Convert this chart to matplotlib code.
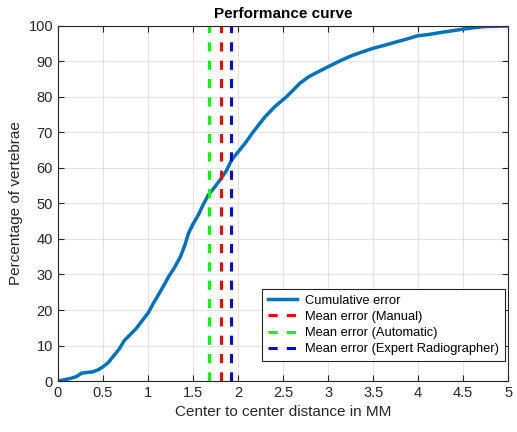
import matplotlib
matplotlib.use("Agg")
import matplotlib.pyplot as plt

plt.rcParams['font.family'] = ['Liberation Sans', 'DejaVu Sans']

# Cumulative error curve (distance in mm, percentage of vertebrae)
dist = [0.00, 0.06, 0.15, 0.21, 0.26, 0.32, 0.39, 0.45, 0.50, 0.56, 0.61, 0.68,
        0.74, 0.80, 0.87, 0.93, 1.00, 1.06, 1.14, 1.23, 1.30, 1.36, 1.41, 1.45,
        1.50, 1.56, 1.61, 1.67, 1.74, 1.80, 1.87, 1.93, 2.00, 2.08, 2.17, 2.30,
        2.41, 2.54, 2.69, 2.78, 2.86, 3.00, 3.12, 3.24, 3.37, 3.50, 3.62, 3.73,
        3.86, 3.99, 4.12, 4.24, 4.37, 4.50, 4.62, 4.73, 4.86, 4.99]
pct = [0.0, 0.3, 0.8, 1.3, 2.2, 2.4, 2.6, 3.2, 4.0, 5.2, 6.8, 9.0,
       11.5, 13.0, 14.8, 16.8, 19.1, 21.9, 25.3, 29.4, 32.2, 35.0, 38.3, 41.6,
       44.2, 46.8, 49.5, 52.4, 54.6, 56.6, 59.2, 62.3, 64.5, 67.0, 70.2, 74.4,
       77.3, 80.1, 83.9, 85.6, 86.7, 88.5, 90.0, 91.4, 92.6, 93.7, 94.5, 95.3,
       96.2, 97.2, 97.6, 98.1, 98.6, 99.1, 99.5, 99.8, 99.9, 100.0]

mean_manual = 1.81
mean_auto = 1.68
mean_expert = 1.92

xticks = [0, 0.5, 1, 1.5, 2, 2.5, 3, 3.5, 4, 4.5, 5]
xticklabels = ['0', '0.5', '1', '1.5', '2', '2.5', '3', '3.5', '4', '4.5', '5']
yticks = [0, 10, 20, 30, 40, 50, 60, 70, 80, 90, 100]

fig = plt.figure(figsize=(5.17, 4.32), dpi=100)
ax = fig.add_axes([0.112, 0.118, 0.871, 0.822])

ax.plot(dist, pct, color='#0072BD', lw=2.5, label='Cumulative error')
ax.axvline(mean_manual, color='red', lw=2.2, ls=(0, (3, 3)), label='Mean error (Manual)')
ax.axvline(mean_auto, color='#00FF00', lw=2.2, ls=(0, (3, 3)), label='Mean error (Automatic)')
ax.axvline(mean_expert, color='blue', lw=2.2, ls=(0, (3, 3)), label='Mean error (Expert Radiographer)')

ax.set_xlim(0, 5)
ax.set_ylim(0, 100)
ax.set_xticks(xticks)
ax.set_xticklabels(xticklabels)
ax.set_yticks(yticks)
ax.grid(True, color='#e3e3e3', lw=0.8)
ax.set_axisbelow(True)
ax.tick_params(direction='in', length=4, width=0.8, colors='#262626', labelsize=10.5,
               top=True, right=True, labelcolor='#262626')
for s in ax.spines.values():
    s.set_color('#262626')
    s.set_linewidth(0.8)

ax.set_title('Performance curve', fontsize=11, fontweight='bold', pad=6)
ax.set_xlabel('Center to center distance in MM', fontsize=11, color='#262626')
ax.set_ylabel('Percentage of vertebrae', fontsize=11, color='#262626')

leg = ax.legend(loc='lower right', bbox_to_anchor=(0.993, 0.056), borderaxespad=0,
                fontsize=9.3, fancybox=False, framealpha=1, edgecolor='#262626',
                handlelength=2.3, borderpad=0.45, labelspacing=0.32, handletextpad=0.6)
leg.get_frame().set_linewidth(0.8)

fig.savefig('out.png', dpi=100)
